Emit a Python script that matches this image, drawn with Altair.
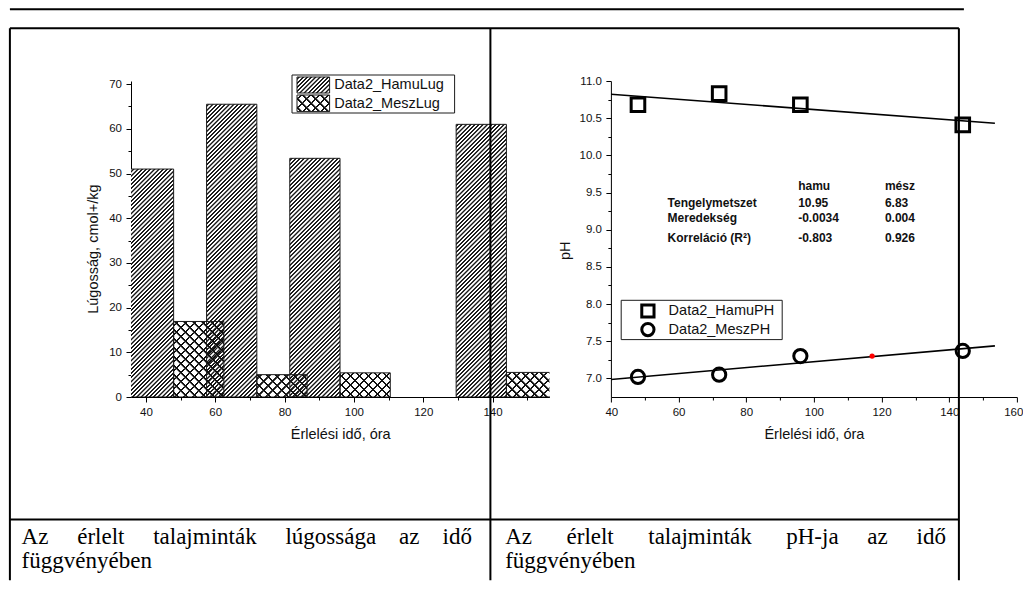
import altair as alt
import pandas as pd

# ---------------- data ----------------
hours = [48, 72, 96, 144]
hamu_lug = [51.0, 65.5, 53.4, 61.0]
mesz_lug = [16.9, 5.0, 5.4, 5.5]
hamu_ph = [10.68, 10.83, 10.68, 10.41]
mesz_ph = [7.02, 7.05, 7.30, 7.37]
lug_names = ["Data2_HamuLug", "Data2_MeszLug"]
ph_names = ["Data2_HamuPH", "Data2_MeszPH"]
mark_hour = [117.2]
mark_ph = [7.30]
fit_head = ["hamu", "mész"]
fit_labels = ["Tengelymetszet", "Meredekség", "Korreláció (R²)"]
fit_hamu = ["10.95", "-0.0034", "-0.803"]
fit_mesz = ["6.83", "0.004", "0.926"]
cap_left = ["Az", "érlelt", "talajminták", "lúgossága", "az", "idő"]
cap_right = ["Az", "érlelt", "talajminták", "pH-ja", "az", "idő"]
cap_tail = ["függvényében"]
x_title = "Érlelési idő, óra"
yl_title = "Lúgosság, cmol+/kg"
yr_title = "pH"

# ---------------- layout / style ----------------
FONT = "Liberation Sans"
SERIF = "Liberation Serif"
PLOT_H = 316
W_LEFT = 418.4
W_RIGHT = 406
X_DOM_L = [35.7, 156.4]
Y_DOM_L = [0, 70.7]
X_DOM_R = [40, 160]
Y_DOM_R = [6.75, 11.0]
BAR_W = 14.5
GAP = 60.9
RX0, RY0 = 610.0, 80.7          # page position of right plot origin
NBSP = "\u00a0"


def rx(px):
    return px - RX0


def ry(py):
    return py - RY0


def hatch(w, h, period, lw, direction, fg, bg):
    total = w + h
    a = total / (w * w + h * h)
    if direction == "/":
        x1, y1, x2, y2 = 0, 0, a * w, a * h
    else:
        x1, y1, x2, y2 = 0, 1, a * w, 1 - a * h
    stops = []
    soft = 0.5
    k = 0
    while True:
        c = (k + 0.5) * period
        if c - lw / 2 - soft > total:
            break
        for off, col in ((c - lw / 2 - soft, bg), (c - lw / 2, fg),
                         (c + lw / 2, fg), (c + lw / 2 + soft, bg)):
            stops.append({"offset": round(min(max(off / total, 0.0), 1.0), 5), "color": col})
        k += 1
    return {"gradient": "linear", "x1": round(x1, 5), "y1": round(y1, 5),
            "x2": round(x2, 5), "y2": round(y2, 5), "stops": stops}


def make_axis(values, step, title, fmt=None, **kw):
    minor = f"abs(datum.value / {step} - round(datum.value / {step})) > 0.001"
    props = dict(values=values, title=title, grid=False,
                 labelExpr=f"({minor}) ? '' : datum.label",
                 tickSize={"condition": {"test": minor, "value": 3}, "value": 5},
                 tickColor="black", tickWidth=1, domainColor="black", domainWidth=1,
                 labelFont=FONT, labelFontSize=11.5, labelColor="#111", labelOverlap=False,
                 titleFont=FONT, titleFontSize=14.5, titleFontWeight="normal", titleColor="#111",
                 titleAlign="center", titleBaseline="middle")
    if fmt:
        props["format"] = fmt
    props.update(kw)
    return alt.Axis(**props)


axis_xl = make_axis(list(range(40, 151, 10)), 20, x_title, labelPadding=4, labelFlush=False,
                    titleX=W_LEFT / 2, titleY=37.3)
axis_yl = make_axis(list(range(0, 71, 5)), 10, yl_title, labelPadding=4.5,
                    titleX=-37.4, titleY=167.6, titleAngle=270)
axis_xr = make_axis(list(range(40, 161, 10)), 20, x_title, labelPadding=4, labelFlush=True,
                    labelFlushOffset=6, titleX=W_RIGHT / 2, titleY=37.3)
axis_yr = make_axis([7 + 0.25 * i for i in range(17)], 0.5, yr_title, fmt=".1f", labelPadding=4.5,
                    titleX=-45, titleY=169.3, titleAngle=270)

# ---------------- left panel: bars ----------------
lug_df = pd.DataFrame({
    "series": [lug_names[0]] * len(hours) + [lug_names[1]] * len(hours),
    "sidx": [0] * len(hours) + [1] * len(hours),
    "hour": hours + hours,
    "value": hamu_lug + mesz_lug,
})
lug_df["key"] = lug_df["sidx"].astype(str) + "_" + lug_df["hour"].astype(str)

lug_base = alt.Chart(lug_df).transform_calculate(
    x0=f"datum.hour + (datum.sidx - 1) * {BAR_W}",
    x1=f"datum.hour + datum.sidx * {BAR_W}",
    zero="0",
)
XL_ENC = alt.X("x0:Q", scale=alt.Scale(domain=X_DOM_L, nice=False, zero=False), axis=axis_xl)
YL_ENC = alt.Y("value:Q", scale=alt.Scale(domain=Y_DOM_L, nice=False, zero=False), axis=axis_yl)
bar_enc = dict(x=XL_ENC, x2=alt.X2("x1"), y=YL_ENC, y2=alt.Y2("zero"))

kx = W_LEFT / (X_DOM_L[1] - X_DOM_L[0])
ky = PLOT_H / (Y_DOM_L[1] - Y_DOM_L[0])

HAMU_FG, MESZ_FG = "#1c1c1c", "#111111"
CLEAR = "rgba(255,255,255,0)"

left_layers = []
for _, r in lug_df.iterrows():
    w = BAR_W * kx
    h = r["value"] * ky
    one = lug_base.transform_filter(f"datum.key == '{r['key']}'")
    if r["sidx"] == 0:
        left_layers.append(one.mark_rect(fill=hatch(w, h, 4.2, 1.5, "/", HAMU_FG, "#ffffff"),
                                         clip=True).encode(**bar_enc))
    else:
        for d in ("/", "\\"):
            left_layers.append(one.mark_rect(fill=hatch(w, h, 9.0, 1.9, d, MESZ_FG, CLEAR),
                                             clip=True).encode(**bar_enc))
left_layers.append(lug_base.mark_rect(fill="transparent", stroke="#1c1c1c", strokeWidth=1,
                                      clip=True).encode(**bar_enc))

# left legend
leg_l = pd.DataFrame({"name": lug_names})
left_layers.append(alt.Chart(leg_l.head(1)).mark_rect(fill="white", stroke="#1c1c1c", strokeWidth=1)
                   .encode(x=alt.value(161), x2=alt.value(323.6), y=alt.value(-6), y2=alt.value(32)))
sw_y = [(-4, 12), (14, 30.6)]
txt_y = [4.3, 23.0]
for i in range(2):
    row = alt.Chart(leg_l.iloc[[i]])
    sw_enc = dict(x=alt.value(166), x2=alt.value(198.6), y=alt.value(sw_y[i][0]), y2=alt.value(sw_y[i][1]))
    sh = sw_y[i][1] - sw_y[i][0]
    if i == 0:
        left_layers.append(row.mark_rect(fill=hatch(32.6, sh, 4.2, 1.5, "/", HAMU_FG, "#ffffff")).encode(**sw_enc))
    else:
        for d in ("/", "\\"):
            left_layers.append(row.mark_rect(fill=hatch(32.6, sh, 9.0, 1.9, d, MESZ_FG, CLEAR)).encode(**sw_enc))
    left_layers.append(row.mark_rect(fill="transparent", stroke="#1c1c1c", strokeWidth=1).encode(**sw_enc))
    left_layers.append(row.mark_text(align="left", baseline="middle", font=FONT, fontSize=14.5, color="#111")
                       .encode(text="name:N", x=alt.value(203.3), y=alt.value(txt_y[i])))

left = alt.layer(*left_layers).properties(width=W_LEFT, height=PLOT_H)

# ---------------- right panel: pH ----------------
ph_df = pd.DataFrame({
    "series": [ph_names[0]] * len(hours) + [ph_names[1]] * len(hours),
    "hour": hours + hours,
    "ph": hamu_ph + mesz_ph,
})
XR_ENC = alt.X("hour:Q", scale=alt.Scale(domain=X_DOM_R, nice=False, zero=False), axis=axis_xr)
YR_ENC = alt.Y("ph:Q", scale=alt.Scale(domain=Y_DOM_R, nice=False, zero=False), axis=axis_yr)

right_layers = []
right_layers.append(
    alt.Chart(ph_df).transform_regression("hour", "ph", groupby=["series"], extent=[40, 153.5])
    .mark_line(color="black", strokeWidth=1.6, clip=True)
    .encode(x=XR_ENC, y=YR_ENC, detail="series:N"))
right_layers.append(
    alt.Chart(ph_df).transform_filter(alt.datum.series == ph_names[0])
    .mark_point(shape="square", filled=False, size=185, strokeWidth=3, color="black", opacity=1)
    .encode(x=XR_ENC, y=YR_ENC))
right_layers.append(
    alt.Chart(ph_df).transform_filter(alt.datum.series == ph_names[1])
    .mark_point(shape="circle", filled=False, size=175, strokeWidth=3, color="black", opacity=1)
    .encode(x=XR_ENC, y=YR_ENC))
right_layers.append(
    alt.Chart(pd.DataFrame({"hour": mark_hour, "ph": mark_ph}))
    .mark_point(shape="circle", filled=True, size=28, color="#ff0000", opacity=1)
    .encode(x=XR_ENC, y=YR_ENC))

# fit table
col_x = [rx(666.7), rx(797.3), rx(884.0)]
row_y = [ry(186.0), ry(202.3), ry(217.3), ry(237.3)]
cells = [(1, 0, fit_head[0]), (2, 0, fit_head[1])]
for i in range(3):
    cells += [(0, i + 1, fit_labels[i]), (1, i + 1, fit_hamu[i]), (2, i + 1, fit_mesz[i])]
for c, rr, t in cells:
    right_layers.append(
        alt.Chart(pd.DataFrame({"t": [t]}))
        .mark_text(align="left", baseline="middle", font=FONT, fontSize=12, fontWeight="bold", color="#111")
        .encode(text="t:N", x=alt.value(col_x[c]), y=alt.value(row_y[rr])))

# right legend
leg_r = pd.DataFrame({"name": ph_names})
right_layers.append(alt.Chart(leg_r.head(1)).mark_rect(fill="white", stroke="#1c1c1c", strokeWidth=1)
                    .encode(x=alt.value(rx(620.3)), x2=alt.value(rx(781.3)),
                            y=alt.value(ry(300.0)), y2=alt.value(ry(339.3))))
leg_sym_y = [ry(310.7), ry(329.3)]
for i, shape in enumerate(["square", "circle"]):
    row = alt.Chart(leg_r.iloc[[i]])
    right_layers.append(row.mark_point(shape=shape, filled=False, size=150, strokeWidth=3,
                                       color="black", opacity=1)
                        .encode(x=alt.value(rx(647.0)), y=alt.value(leg_sym_y[i])))
    right_layers.append(row.mark_text(align="left", baseline="middle", font=FONT, fontSize=14.5, color="#111")
                        .encode(text="name:N", x=alt.value(rx(667.7)), y=alt.value(leg_sym_y[i])))

# page frame: rules and captions
frame = alt.Chart(pd.DataFrame({"k": [0]}))
rules = [
    (9, 963, 9, 9),          # top line
    (9, 958, 28, 28),        # table top
    (9, 958, 519.2, 519.2),  # caption separator
    (9, 9, 28, 580),         # left border
    (489.5, 489.5, 28, 580),
    (958, 958, 28, 580),
]
for x_a, x_b, y_a, y_b in rules:
    right_layers.append(frame.mark_rule(color="black", strokeWidth=2)
                        .encode(x=alt.value(rx(x_a)), x2=alt.value(rx(x_b)),
                                y=alt.value(ry(y_a)), y2=alt.value(ry(y_b))))


def justify(words, gaps):
    out = words[0]
    for w, g in zip(words[1:], gaps):
        out += NBSP * g + w
    return out


cap_specs = [
    (cap_left, [5, 5, 5, 4, 4], 20.7),
    (cap_right, [6, 6, 6, 5, 5], 504.3),
]
for words, gaps, x0 in cap_specs:
    for txt, yb in ((justify(words, gaps), 544.0), (cap_tail[0], 568.0)):
        right_layers.append(
            alt.Chart(pd.DataFrame({"t": [txt]}))
            .mark_text(align="left", baseline="alphabetic", font=SERIF, fontSize=23, color="black")
            .encode(text="t:N", x=alt.value(rx(x0)), y=alt.value(ry(yb))))

right = alt.layer(*right_layers).properties(width=W_RIGHT, height=PLOT_H)

chart = (alt.hconcat(left, right, spacing=GAP, bounds="flush")
         .properties(padding=0, background="white")
         .configure_view(stroke=None))

chart.save("out.html", embed_options={"renderer": "svg", "actions": False})
